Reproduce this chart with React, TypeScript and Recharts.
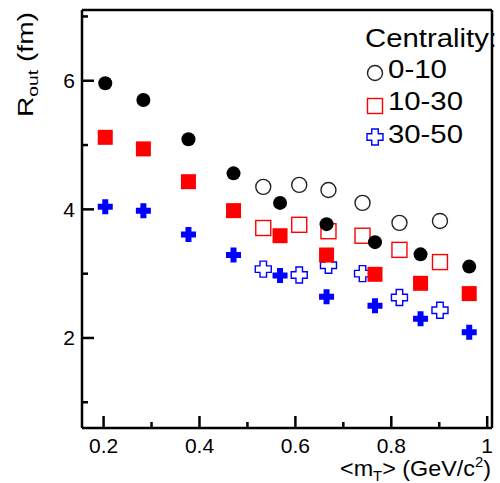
import React from "react";
import { ScatterChart, Scatter, XAxis, YAxis, ReferenceLine } from "recharts";

// <mT> values (GeV/c^2)
const mtFilled = [0.2035, 0.283, 0.377, 0.471, 0.568, 0.665, 0.766, 0.861, 0.9625];
const mtOpen = [0.533, 0.608, 0.669, 0.74, 0.817, 0.9015];

// Rout (fm), filled markers
const rout0010Filled = [5.96, 5.7, 5.09, 4.56, 4.1, 3.77, 3.49, 3.3, 3.11];
const rout1030Filled = [5.12, 4.94, 4.43, 3.98, 3.59, 3.29, 2.99, 2.85, 2.69];
const rout3050Filled = [4.04, 3.98, 3.61, 3.29, 2.97, 2.64, 2.5, 2.3, 2.09];

// Rout (fm), open markers
const rout0010Open = [4.35, 4.38, 4.3, 4.1, 3.79, 3.82];
const rout1030Open = [3.71, 3.76, 3.66, 3.59, 3.37, 3.18];
const rout3050Open = [3.07, 2.98, 3.13, 3.0, 2.63, 2.43];

const xTicks = [0.2, 0.3, 0.4, 0.5, 0.6, 0.7, 0.8, 0.9, 1.0];
const xLabels = ["0.2", "", "0.4", "", "0.6", "", "0.8", "", "1"];
const yTicks = [1, 2, 3, 4, 5, 6, 7];
const yLabels = ["", "2", "", "4", "", "6", ""];

const legendLabels = ["0-10", "10-30", "30-50"];

const toPoints = (xs: number[], ys: number[]) => xs.map((x, i) => ({ x, y: ys[i] }));

const FONT = "'Liberation Sans', Arial, sans-serif";
const RED = "#ff0000";
const BLUE = "#0000ff";

const crossPath = (cx: number, cy: number, s: number, a: number) => {
  const h = s / 2;
  const t = a / 2;
  return `M${cx - t},${cy - h} H${cx + t} V${cy - t} H${cx + h} V${cy + t} H${cx + t} V${cy + h} H${cx - t} V${cy + t} H${cx - h} V${cy - t} H${cx - t} Z`;
};

const FilledCircle = ({ cx, cy }: any) => <circle cx={cx} cy={cy} r={7} fill="#000" />;
const FilledSquare = ({ cx, cy }: any) => <rect x={cx - 7.5} y={cy - 7.5} width={15} height={15} fill={RED} />;
const FilledCross = ({ cx, cy }: any) => <path d={crossPath(cx, cy, 15, 6)} fill={BLUE} />;
const OpenCircle = ({ cx, cy }: any) => <circle cx={cx} cy={cy} r={7.5} fill="none" stroke="#222" strokeWidth={1.4} />;
const OpenSquare = ({ cx, cy }: any) => (
  <rect x={cx - 7.5} y={cy - 7.5} width={15} height={15} fill="none" stroke={RED} strokeWidth={1.4} />
);
const OpenCross = ({ cx, cy }: any) => <path d={crossPath(cx, cy, 16, 6.5)} fill="none" stroke={BLUE} strokeWidth={1.4} />;

const XTick = ({ x, y, payload, index }: any) => {
  const label = xLabels[index] ?? "";
  const major = label !== "";
  return (
    <g>
      <line x1={x} x2={x} y1={y} y2={y - (major ? 12 : 6)} stroke="#000" strokeWidth={2.5} />
      {major && (
        <text x={x} y={y + 25} textAnchor="middle" fontSize={21} fontFamily={FONT} fill="#000">
          {label}
        </text>
      )}
    </g>
  );
};

const YTick = ({ x, y, index }: any) => {
  const label = yLabels[index] ?? "";
  const major = label !== "";
  return (
    <g>
      <line x1={x} x2={x + (major ? 12 : 6)} y1={y} y2={y} stroke="#000" strokeWidth={2.5} />
      {major && (
        <text x={x - 7} y={y + 7.5} textAnchor="end" fontSize={21} fontFamily={FONT} fill="#000">
          {label}
        </text>
      )}
    </g>
  );
};

export default function App() {
  return (
    <div style={{ position: "absolute", left: 0, top: 0, width: 500, height: 483, background: "#fff" }}>
      <ScatterChart width={500} height={483} margin={{ top: 10, right: 8, bottom: 0, left: 0 }}>
        <XAxis
          type="number"
          dataKey="x"
          domain={[0.155, 1.01]}
          ticks={xTicks}
          interval={0}
          allowDataOverflow
          height={55}
          tickSize={0}
          tickMargin={0}
          tickLine={false}
          axisLine={{ stroke: "#000", strokeWidth: 2.5 }}
          tick={<XTick />}
        />
        <YAxis
          type="number"
          dataKey="y"
          domain={[0.6, 7.1]}
          ticks={yTicks}
          interval={0}
          allowDataOverflow
          width={82}
          tickSize={0}
          tickMargin={0}
          tickLine={false}
          axisLine={{ stroke: "#000", strokeWidth: 2.5 }}
          tick={<YTick />}
        />
        <ReferenceLine y={7.1} stroke="#000" strokeWidth={2.5} />
        <ReferenceLine x={1.01} stroke="#000" strokeWidth={2.5} />
        <Scatter data={toPoints(mtOpen, rout0010Open)} shape={OpenCircle} isAnimationActive={false} />
        <Scatter data={toPoints(mtOpen, rout1030Open)} shape={OpenSquare} isAnimationActive={false} />
        <Scatter data={toPoints(mtOpen, rout3050Open)} shape={OpenCross} isAnimationActive={false} />
        <Scatter data={toPoints(mtFilled, rout0010Filled)} shape={FilledCircle} isAnimationActive={false} />
        <Scatter data={toPoints(mtFilled, rout1030Filled)} shape={FilledSquare} isAnimationActive={false} />
        <Scatter data={toPoints(mtFilled, rout3050Filled)} shape={FilledCross} isAnimationActive={false} />
      </ScatterChart>
      <svg width={500} height={483} style={{ position: "absolute", left: 0, top: 0, pointerEvents: "none" }}>
        {/* legend */}
        <text x={365} y={47} fontSize={25} fontFamily={FONT} textLength={132} lengthAdjust="spacingAndGlyphs">
          Centrality:
        </text>
        <OpenCircle cx={375} cy={73} />
        <text x={388} y={78} fontSize={25} fontFamily={FONT} textLength={59} lengthAdjust="spacingAndGlyphs">
          {legendLabels[0]}
        </text>
        <OpenSquare cx={375} cy={106} />
        <text x={388} y={110} fontSize={25} fontFamily={FONT} textLength={75} lengthAdjust="spacingAndGlyphs">
          {legendLabels[1]}
        </text>
        <OpenCross cx={375} cy={137} />
        <text x={388} y={143} fontSize={25} fontFamily={FONT} textLength={75} lengthAdjust="spacingAndGlyphs">
          {legendLabels[2]}
        </text>
        {/* axis titles */}
        <text transform="translate(33,117) rotate(-90)" fontSize={22} fontFamily={FONT} textLength={105} lengthAdjust="spacingAndGlyphs">
          R<tspan fontSize={15} dy={5}>out</tspan>
          <tspan dy={-5}> (fm)</tspan>
        </text>
        <text x={340} y={476} fontSize={22} fontFamily={FONT} textLength={151} lengthAdjust="spacingAndGlyphs">
          {"<m"}
          <tspan fontSize={14} dy={5}>T</tspan>
          <tspan dy={-5}>{"> (GeV/c"}</tspan>
          <tspan fontSize={14} dy={-9}>2</tspan>
          <tspan dy={9}>)</tspan>
        </text>
      </svg>
    </div>
  );
}
